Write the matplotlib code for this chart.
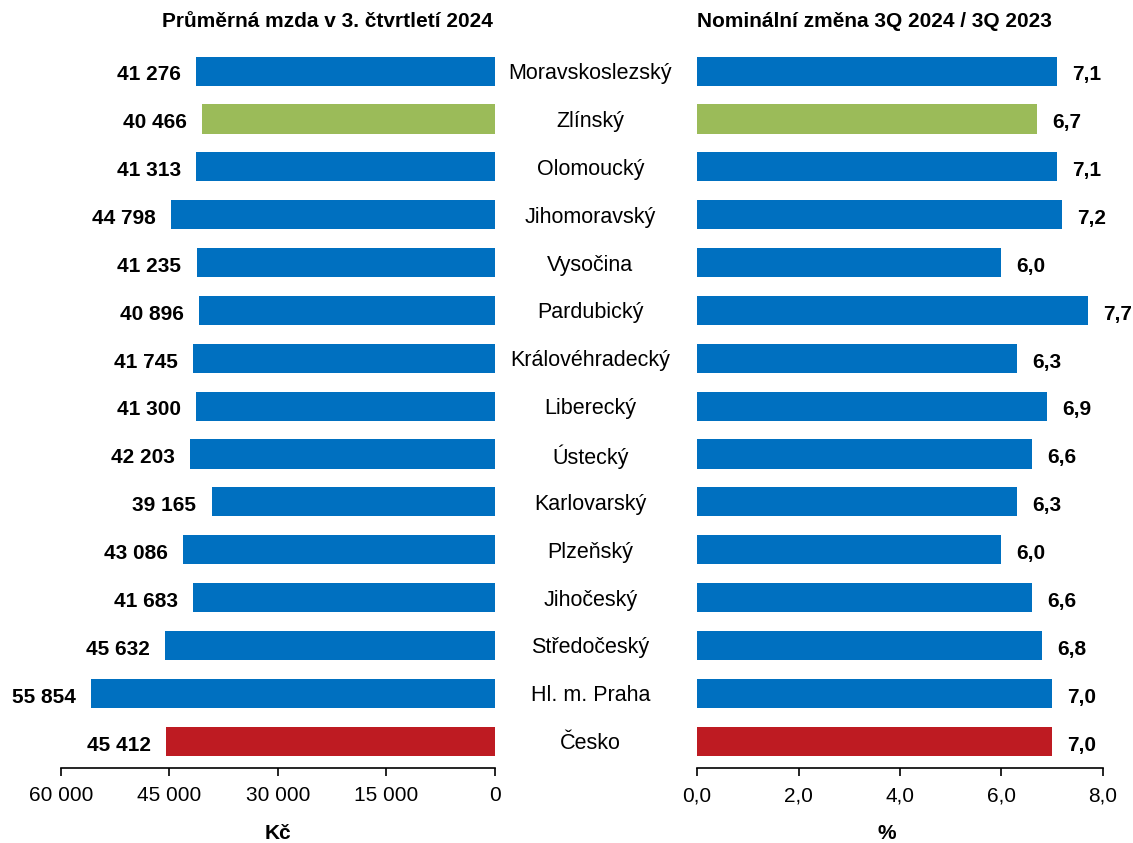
import matplotlib.pyplot as plt
import numpy as np

plt.rcParams['font.family'] = ['Liberation Sans', 'DejaVu Sans']

regions = ["Moravskoslezský", "Zlínský", "Olomoucký", "Jihomoravský", "Vysočina",
           "Pardubický", "Královéhradecký", "Liberecký", "Ústecký", "Karlovarský",
           "Plzeňský", "Jihočeský", "Středočeský", "Hl. m. Praha", "Česko"]
wages = [41276, 40466, 41313, 44798, 41235, 40896, 41745, 41300, 42203, 39165,
         43086, 41683, 45632, 55854, 45412]
change = [7.1, 6.7, 7.1, 7.2, 6.0, 7.7, 6.3, 6.9, 6.6, 6.3, 6.0, 6.6, 6.8, 7.0, 7.0]

BLUE = "#0070C0"
GREEN = "#9BBB59"
RED = "#BE1B22"
colors = [BLUE] * len(regions)
colors[1] = GREEN
colors[-1] = RED

y = np.arange(len(regions))
fig = plt.figure(figsize=(11.33, 8.43), dpi=100)

bottom, top = 0.089, 0.944
axL = fig.add_axes([0.0538, bottom, 0.4365 - 0.0538, top - bottom])
axR = fig.add_axes([0.6152, bottom, 0.9735 - 0.6152, top - bottom])

FS = 15

def fmt_int(v):
    return f"{v:,}".replace(",", " ")

# left: average wage
axL.barh(y, wages, height=0.61, color=colors)
axL.set_xlim(60000, 0)
axL.set_ylim(14.56, -0.5)
axL.set_xticks([60000, 45000, 30000, 15000, 0])
axL.set_xticklabels([fmt_int(t) for t in [60000, 45000, 30000, 15000, 0]])
for yi, v in zip(y, wages):
    axL.text(v + 2100, yi + 0.08, fmt_int(v), ha="right", va="center",
             fontsize=FS, fontweight="bold")
axL.set_xlabel("Kč", fontsize=FS, fontweight="bold", labelpad=14)

# right: nominal change
axR.barh(y, change, height=0.61, color=colors)
axR.set_xlim(0, 8)
axR.set_ylim(14.56, -0.5)
axR.set_xticks([0, 2, 4, 6, 8])
axR.set_xticklabels([f"{t:.1f}".replace(".", ",") for t in [0, 2, 4, 6, 8]])
for yi, v in zip(y, change):
    axR.text(v + 0.3, yi + 0.08, f"{v:.1f}".replace(".", ","), ha="left", va="center",
             fontsize=FS, fontweight="bold")
axR.set_xlabel("%", fontsize=FS, fontweight="bold", labelpad=14)
axR.xaxis.label.set_x(0.468)

for ax in (axL, axR):
    for s in ("top", "left", "right"):
        ax.spines[s].set_visible(False)
    ax.set_yticks([])
    ax.tick_params(axis="x", labelsize=FS, length=6, width=1.2, pad=7)
    ax.spines["bottom"].set_linewidth(1.2)

# category names in the middle
for yi, name in zip(y, regions):
    fig.text(0.521, bottom + (top - bottom) * (14.56 - yi) / 15.06 - 0.003, name,
             ha="center", va="center", fontsize=15.5)

fig.text(0.289, 0.974, "Průměrná mzda v 3. čtvrtletí 2024", ha="center", va="center",
         fontsize=FS, fontweight="bold")
fig.text(0.772, 0.974, "Nominální změna 3Q 2024 / 3Q 2023", ha="center", va="center",
         fontsize=FS, fontweight="bold")

fig.savefig("out.png", dpi=100)
